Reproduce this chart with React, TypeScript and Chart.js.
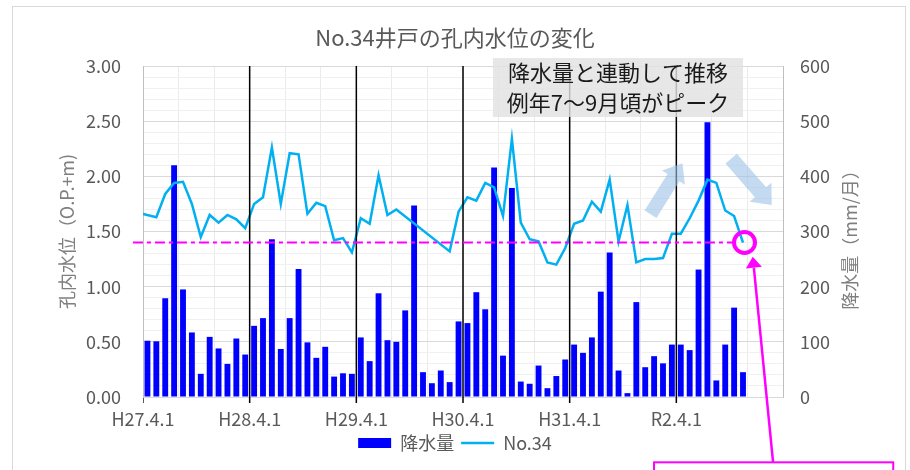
import React, { useEffect, useRef } from "react";
import { Chart, registerables } from "chart.js";

Chart.register(...registerables);

const FONT = "'Noto Sans CJK JP', 'Noto Sans', sans-serif";

// ---- text ----
const chartTitle = "No.34井戸の孔内水位の変化";
const leftAxisTitle = "孔内水位（O.P.+m)";
const rightAxisTitle = "降水量（mm/月）";
const rainLabel = "降水量";
const levelLabel = "No.34";
const noteLines = ["降水量と連動して推移", "例年7～9月頃がピーク"];

// ---- x axis: months counted from 2015-04-01 (H27.4.1) ----
const yearTickLabels = ["H27.4.1", "H28.4.1", "H29.4.1", "H30.4.1", "H31.4.1", "R2.4.1"];
const axisMonths = 72;

// ---- monthly rainfall (mm/月), 2015-04 .. 2020-11 ----
const rainStart = "2015-04-01";
const rainfall = [
  102, 101, 179, 420, 195, 117, 42, 109, 88, 60, 106, 77,
  129, 143, 286, 87, 143, 232, 99, 71, 91, 37, 43, 42,
  108, 65, 188, 103, 100, 157, 347, 45, 25, 48, 27, 137,
  134, 190, 159, 416, 75, 379, 28, 24, 57, 16, 38, 68,
  95, 80, 108, 191, 262, 48, 7, 172, 54, 74, 61, 95,
  95, 85, 231, 498, 30, 95, 162, 45,
];

// ---- No.34 water level (O.P.+m) ----
const levelDates = [
  "2015-04-01", "2015-05-16", "2015-06-16", "2015-07-16", "2015-08-16", "2015-09-16",
  "2015-10-16", "2015-11-16", "2015-12-16", "2016-01-16", "2016-02-16", "2016-03-16",
  "2016-04-16", "2016-05-16", "2016-06-16", "2016-07-16", "2016-08-16", "2016-09-16",
  "2016-10-16", "2016-11-16", "2016-12-16", "2017-01-16", "2017-02-16", "2017-03-16",
  "2017-04-16", "2017-05-16", "2017-06-16", "2017-07-16", "2017-08-16",
  "2018-02-16", "2018-03-16",
  "2018-04-16", "2018-05-16", "2018-06-16", "2018-07-16", "2018-08-16", "2018-09-16",
  "2018-10-16", "2018-11-16", "2018-12-16", "2019-01-16", "2019-02-16", "2019-03-16",
  "2019-04-16", "2019-05-16", "2019-06-16", "2019-07-16", "2019-08-16", "2019-09-16",
  "2019-10-16", "2019-11-16", "2019-12-16", "2020-01-16", "2020-02-16", "2020-03-16",
  "2020-04-16", "2020-05-16", "2020-06-16", "2020-07-16", "2020-08-16", "2020-09-16",
  "2020-10-16", "2020-11-16",
];
const levelValues = [
  1.66, 1.63, 1.84, 1.94, 1.95, 1.75,
  1.45, 1.65, 1.58, 1.65, 1.61, 1.53,
  1.75, 1.81, 2.26, 1.75, 2.21, 2.20,
  1.66, 1.76, 1.73, 1.42, 1.44, 1.31,
  1.62, 1.57, 2.01, 1.65, 1.70,
  1.32, 1.68,
  1.81, 1.78, 1.94, 1.90, 1.64, 2.34,
  1.58, 1.43, 1.41, 1.22, 1.20, 1.35,
  1.57, 1.60, 1.77, 1.68, 1.97, 1.41,
  1.74, 1.22, 1.25, 1.25, 1.26, 1.48,
  1.48, 1.62, 1.78, 1.97, 1.94, 1.69,
  1.64, 1.40,
];
const levelThreshold = 1.4;

// ---- annotation geometry in data units (x: months, y: level) ----
const noteBox = { x0: 39.37, x1: 67.5, y0: 3.072, y1: 2.538 };
const thresholdSpan = { x0: -1.13, x1: 66.3 };
const upArrow = { x0: 57.1, y0: 1.657, x1: 60.69, y1: 2.119 };
const downArrow = { x0: 66.17, y0: 2.16, x1: 70.73, y1: 1.74 };
const pinArrow = { x0: 70.88, y0: -0.589, x1: 68.6, y1: 1.272 };
const calloutBox = { x0: 57.49, x1: 84.4, y0: -0.592, y1: -0.9 };

function monthPos(date: string): number {
  const [Y, M, D] = date.split("-").map(Number);
  return (Y - 2015) * 12 + (M - 4) + (D - 1) / 30;
}

const isHalf = (v: number) => Math.abs(v * 2 - Math.round(v * 2)) < 1e-6;

function blockArrow(ctx: CanvasRenderingContext2D, x0: number, y0: number, x1: number, y1: number, shaftW: number, headW: number, headL: number) {
  const dx = x1 - x0, dy = y1 - y0, len = Math.hypot(dx, dy);
  const ux = dx / len, uy = dy / len, nx = -uy, ny = ux;
  const bx = x1 - ux * headL, by = y1 - uy * headL;
  ctx.beginPath();
  ctx.moveTo(x0 + (nx * shaftW) / 2, y0 + (ny * shaftW) / 2);
  ctx.lineTo(bx + (nx * shaftW) / 2, by + (ny * shaftW) / 2);
  ctx.lineTo(bx + (nx * headW) / 2, by + (ny * headW) / 2);
  ctx.lineTo(x1, y1);
  ctx.lineTo(bx - (nx * headW) / 2, by - (ny * headW) / 2);
  ctx.lineTo(bx - (nx * shaftW) / 2, by - (ny * shaftW) / 2);
  ctx.lineTo(x0 - (nx * shaftW) / 2, y0 - (ny * shaftW) / 2);
  ctx.closePath();
  ctx.fill();
}

const decorPlugin = {
  id: "decor",
  beforeDraw(chart: any) {
    const { ctx, width, height } = chart;
    ctx.save();
    ctx.fillStyle = "#ffffff";
    ctx.fillRect(0, 0, width, height);
    ctx.strokeStyle = "#d9d9d9";
    ctx.lineWidth = 1;
    ctx.strokeRect(12.5, 6.5, 893, height + 20);
    ctx.restore();
  },
  afterDraw(chart: any) {
    // right axis title, reading bottom-to-top like the left one
    const { ctx, chartArea } = chart;
    const s = chart.scales.y1;
    ctx.save();
    ctx.translate(s.right - 60, (chartArea.top + chartArea.bottom) / 2 + 4);
    ctx.rotate(-Math.PI / 2);
    ctx.fillStyle = "#7f7f7f";
    ctx.font = `18px ${FONT}`;
    ctx.textAlign = "center";
    ctx.textBaseline = "middle";
    ctx.fillText(rightAxisTitle, 0, 0);
    ctx.restore();
  },
  afterDatasetsDraw(chart: any) {
    const { ctx, chartArea } = chart;
    const xs = chart.scales.x, ys = chart.scales.y;
    const px = (v: number) => xs.getPixelForValue(v);
    const py = (v: number) => ys.getPixelForValue(v);
    ctx.save();

    // yearly black separators
    ctx.strokeStyle = "#000000";
    ctx.lineWidth = 1.5;
    for (let i = 1; i < yearTickLabels.length; i++) {
      const x = px(i * 12);
      ctx.beginPath();
      ctx.moveTo(x, chartArea.top);
      ctx.lineTo(x, chartArea.bottom + 6);
      ctx.stroke();
    }

    // threshold dashed line
    ctx.strokeStyle = "#ff00ff";
    ctx.lineWidth = 2;
    ctx.setLineDash([10, 4, 4, 4]);
    ctx.beginPath();
    ctx.moveTo(px(thresholdSpan.x0), py(levelThreshold));
    ctx.lineTo(px(thresholdSpan.x1), py(levelThreshold));
    ctx.stroke();
    ctx.setLineDash([]);

    // light blue trend arrows
    ctx.fillStyle = "rgba(155,194,230,0.6)";
    blockArrow(ctx, px(upArrow.x0), py(upArrow.y0), px(upArrow.x1), py(upArrow.y1), 14, 27, 17);
    blockArrow(ctx, px(downArrow.x0), py(downArrow.y0), px(downArrow.x1), py(downArrow.y1), 15, 29, 17);

    // note box
    const bx0 = px(noteBox.x0), bx1 = px(noteBox.x1), by0 = py(noteBox.y0), by1 = py(noteBox.y1);
    ctx.fillStyle = "rgba(226,226,226,0.82)";
    ctx.fillRect(bx0, by0, bx1 - bx0, by1 - by0);
    ctx.fillStyle = "#1a1a1a";
    ctx.font = `22px ${FONT}`;
    ctx.textAlign = "center";
    ctx.textBaseline = "middle";
    const bh = by1 - by0;
    ctx.fillText(noteLines[0], (bx0 + bx1) / 2, by0 + bh * 0.25);
    ctx.fillText(noteLines[1], (bx0 + bx1) / 2, by0 + bh * 0.75);

    // magenta circle at last reading
    const lastX = px(monthPos(levelDates[levelDates.length - 1]));
    const lastY = py(levelValues[levelValues.length - 1]);
    ctx.strokeStyle = "#ff00ff";
    ctx.lineWidth = 4;
    ctx.beginPath();
    ctx.arc(lastX + 1.5, lastY, 10.5, 0, Math.PI * 2);
    ctx.stroke();

    // magenta pointer arrow
    const ax0 = px(pinArrow.x0), ay0 = py(pinArrow.y0), ax1 = px(pinArrow.x1), ay1 = py(pinArrow.y1);
    const len = Math.hypot(ax1 - ax0, ay1 - ay0);
    const ux = (ax1 - ax0) / len, uy = (ay1 - ay0) / len;
    const headL = 11, headW = 16;
    const hbx = ax1 - ux * headL, hby = ay1 - uy * headL;
    ctx.lineWidth = 2.5;
    ctx.beginPath();
    ctx.moveTo(ax0, ay0);
    ctx.lineTo(hbx, hby);
    ctx.stroke();
    ctx.fillStyle = "#ff00ff";
    ctx.beginPath();
    ctx.moveTo(ax1, ay1);
    ctx.lineTo(hbx - uy * headW / 2, hby + ux * headW / 2);
    ctx.lineTo(hbx + uy * headW / 2, hby - ux * headW / 2);
    ctx.closePath();
    ctx.fill();

    // callout rectangle (cut at bottom)
    ctx.lineWidth = 2;
    const cx0 = px(calloutBox.x0), cx1 = px(calloutBox.x1), cy0 = py(calloutBox.y0), cy1 = py(calloutBox.y1);
    ctx.strokeRect(cx0, cy0, cx1 - cx0, cy1 - cy0);

    ctx.restore();
  },
};

export default function App() {
  const canvasRef = useRef<HTMLCanvasElement | null>(null);

  useEffect(() => {
    if (!canvasRef.current) return;
    Chart.defaults.font.family = FONT;
    const rainX0 = monthPos(rainStart);

    const chart = new Chart(canvasRef.current, {
      type: "bar",
      data: {
        datasets: [
          {
            type: "bar",
            label: rainLabel,
            data: rainfall.map((v, i) => ({ x: rainX0 + i + 0.5, y: v })),
            yAxisID: "y1",
            backgroundColor: "#0000ff",
            borderColor: "#0000ff",
            borderWidth: 0,
            barPercentage: 0.66,
            categoryPercentage: 1,
            order: 1,
          } as any,
          {
            type: "line",
            label: levelLabel,
            data: levelDates.map((d, i) => ({ x: monthPos(d), y: levelValues[i] })),
            yAxisID: "y",
            borderColor: "#00b0f0",
            backgroundColor: "#00b0f0",
            borderWidth: 2.5,
            pointRadius: 0,
            tension: 0,
            order: 0,
          } as any,
        ],
      },
      options: {
        responsive: false,
        animation: false,
        layout: { padding: { left: 0, right: 0, top: 0, bottom: 8 } },
        plugins: {
          tooltip: { enabled: false },
          title: {
            display: true,
            text: chartTitle,
            color: "#595959",
            font: { size: 22, weight: "normal" as any },
            padding: { top: 24.8, bottom: 14.8 },
          },
          legend: {
            position: "bottom",
            labels: {
              usePointStyle: true,
              pointStyleWidth: 33,
              boxHeight: 10,
              color: "#595959",
              font: { size: 18 },
              padding: 7,
              sort: (a: any, b: any) => a.datasetIndex - b.datasetIndex,
              generateLabels: (ch: any) => {
                const items = (Chart.defaults.plugins.legend.labels as any).generateLabels(ch);
                return items.map((it: any) => {
                  if (it.datasetIndex === 0) {
                    return { ...it, pointStyle: "rect", fillStyle: "#0000ff", strokeStyle: "#0000ff", lineWidth: 0 };
                  }
                  return { ...it, pointStyle: "line", fillStyle: "#00b0f0", strokeStyle: "#00b0f0", lineWidth: 2.5 };
                });
              },
            },
          },
        },
        scales: {
          x: {
            type: "linear",
            min: 0,
            max: axisMonths,
            offset: false,
            afterFit: (s: any) => { s.height = 30; },
            ticks: {
              stepSize: 4,
              autoSkip: false,
              maxRotation: 0,
              padding: 5,
              color: "#595959",
              font: { size: 18 },
              callback: (v: any) => {
                const n = Number(v);
                if (n % 12 === 0 && n / 12 < yearTickLabels.length) return yearTickLabels[n / 12];
                return "";
              },
            },
            grid: {
              offset: false,
              color: "#ebebeb",
              drawTicks: true,
              tickLength: 6,
              tickColor: (c: any) => {
                const n = c.tick ? Number(c.tick.value) : -1;
                return n === 0 ? "#595959" : "rgba(0,0,0,0)";
              },
            },
            border: { color: "#d9d9d9" },
          } as any,
          y: {
            type: "linear",
            position: "left",
            min: 0,
            max: 3,
            afterFit: (s: any) => { s.width = 143; },
            ticks: {
              stepSize: 0.1,
              autoSkip: false,
              padding: 22,
              color: "#595959",
              font: { size: 18 },
              callback: (v: any) => (isHalf(Number(v)) ? Number(v).toFixed(2) : ""),
            },
            grid: {
              drawTicks: false,
              color: (c: any) => (c.tick && isHalf(Number(c.tick.value)) ? "#d9d9d9" : "#f0f0f0"),
            },
            border: { color: "#bfbfbf" },
            title: {
              display: true,
              text: leftAxisTitle,
              color: "#7f7f7f",
              font: { size: 18 },
              padding: { top: 56, bottom: 0 },
            },
          } as any,
          y1: {
            type: "linear",
            position: "right",
            min: 0,
            max: 600,
            afterFit: (s: any) => { s.width = 127; },
            ticks: {
              stepSize: 100,
              padding: 17,
              color: "#595959",
              font: { size: 18 },
            },
            grid: { drawOnChartArea: false, drawTicks: false },
            border: { color: "#bfbfbf" },
            title: { display: false, text: rightAxisTitle },
          } as any,
        },
      },
      plugins: [decorPlugin],
    });
    return () => chart.destroy();
  }, []);

  return (
    <div style={{ position: "absolute", left: 0, top: 0, width: 910, height: 470, overflow: "hidden", background: "#fff" }}>
      <canvas ref={canvasRef} width={910} height={470} style={{ display: "block" }} />
    </div>
  );
}
